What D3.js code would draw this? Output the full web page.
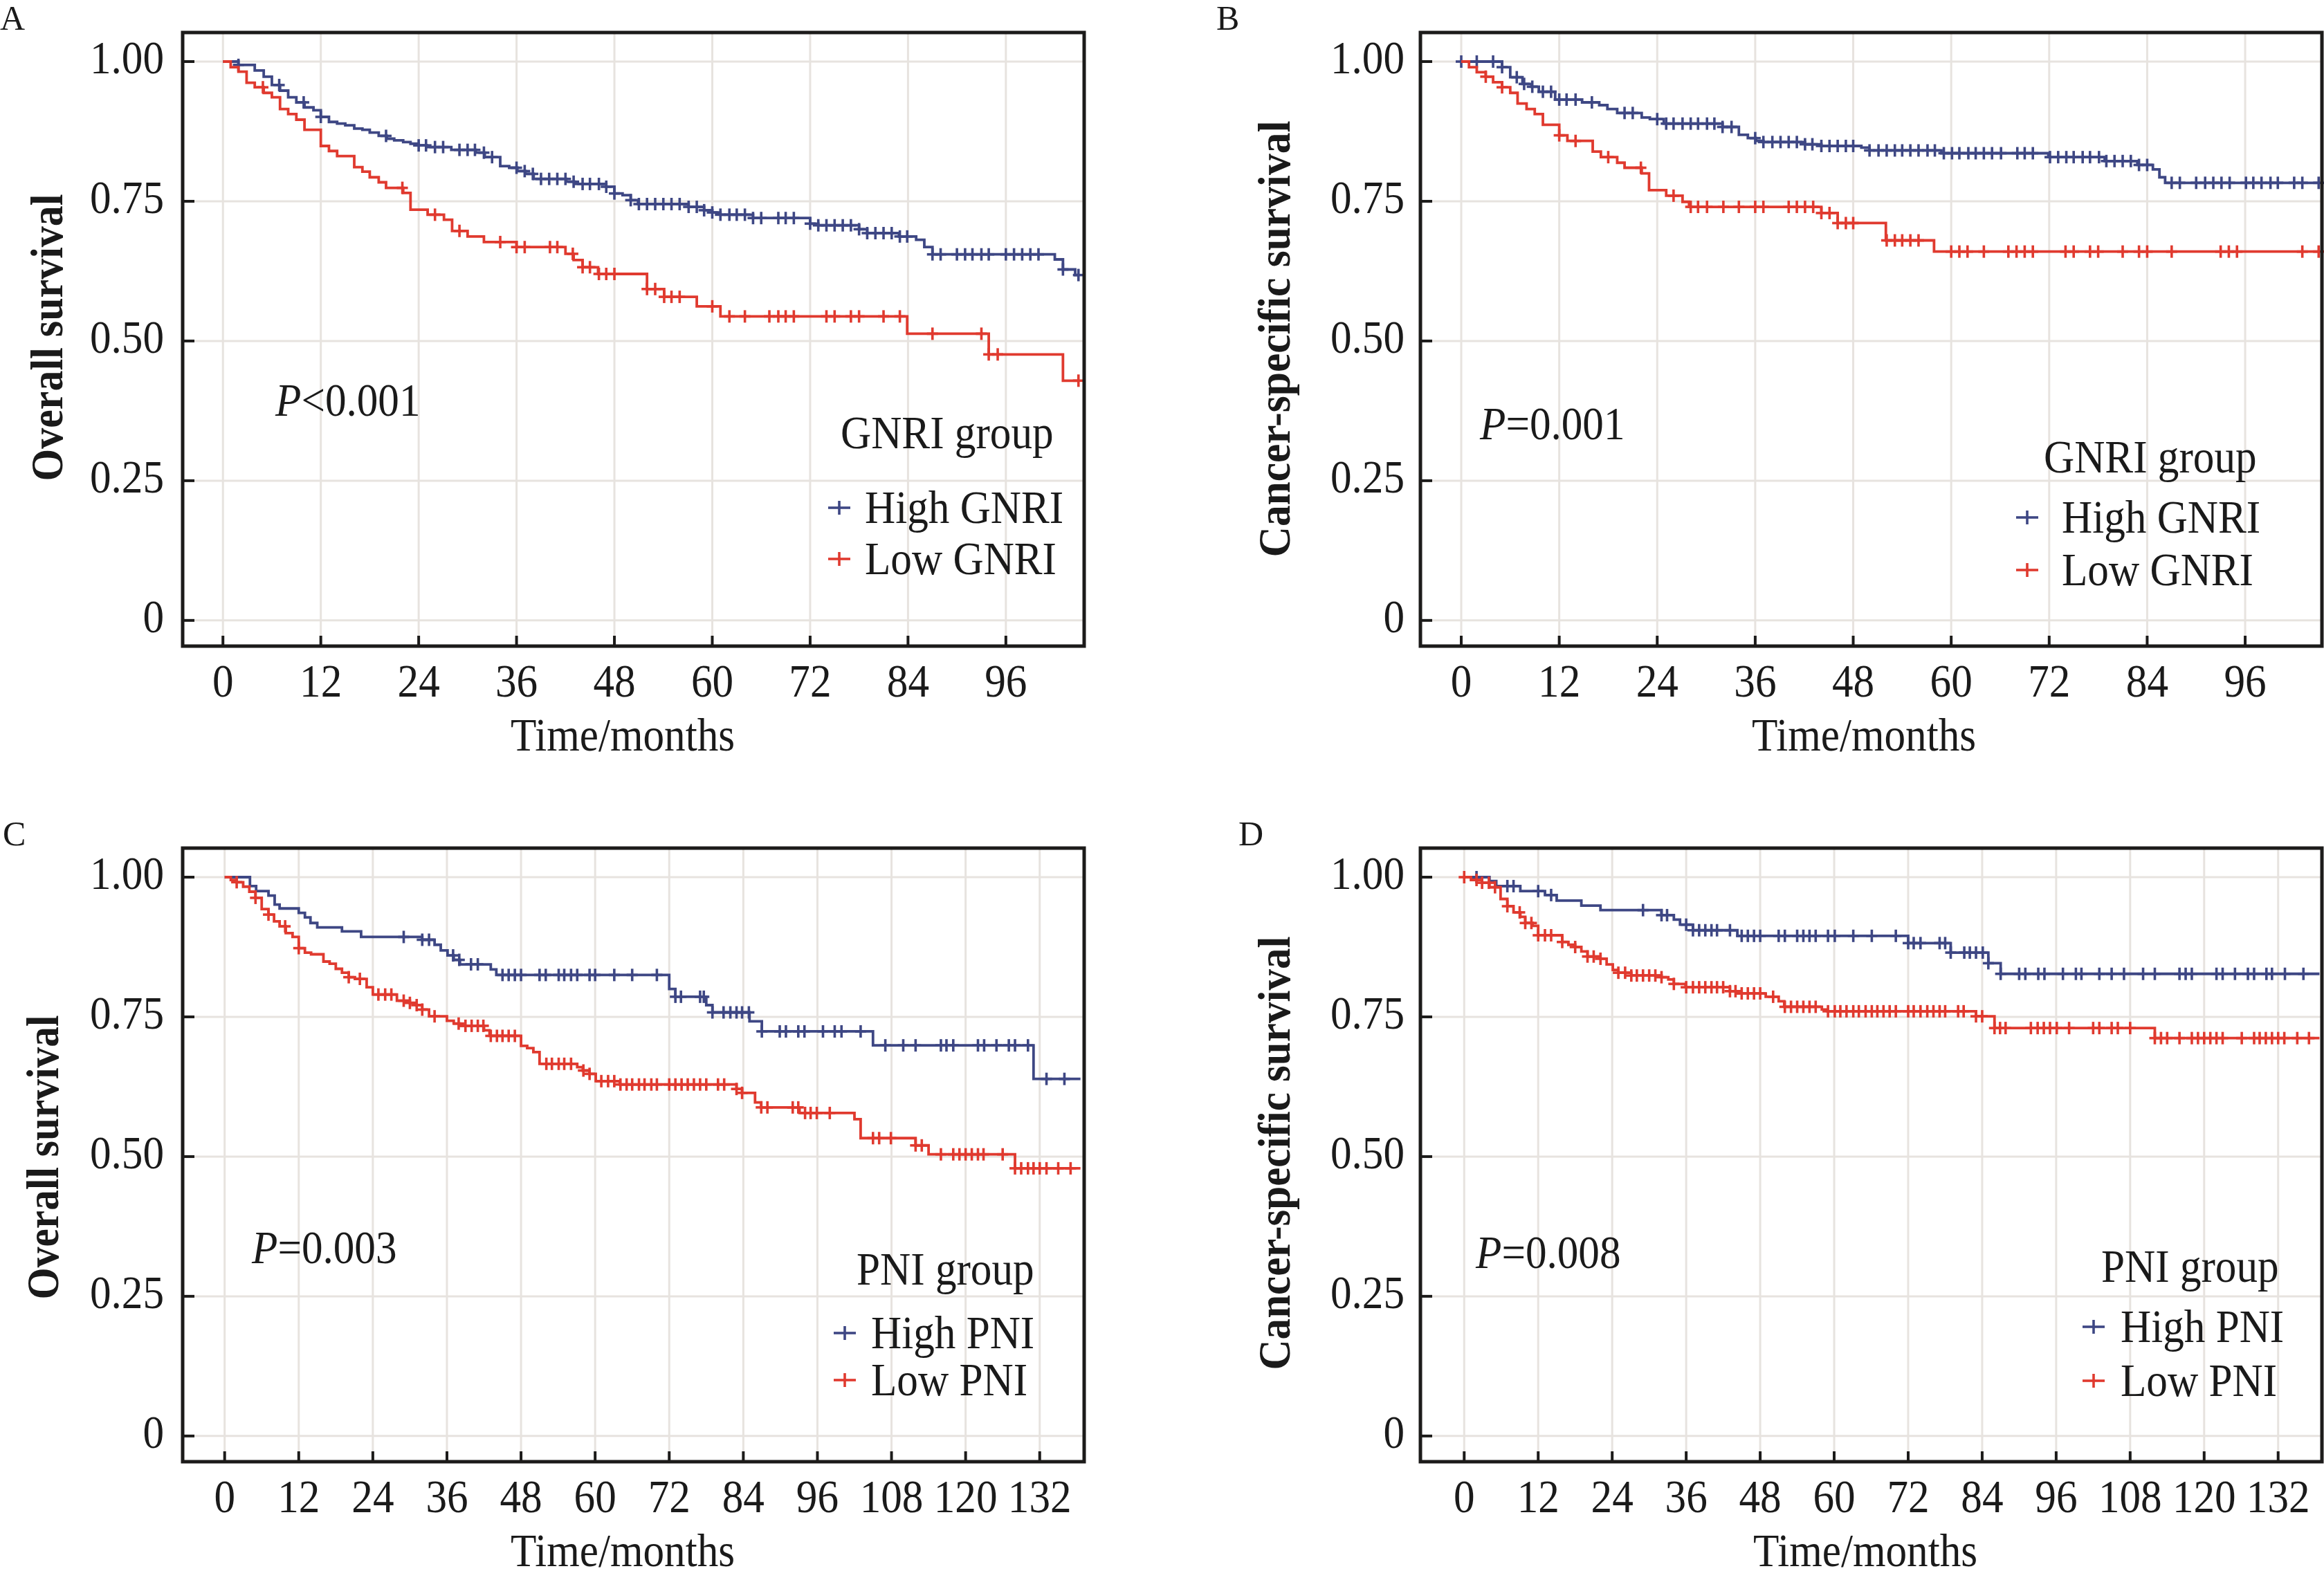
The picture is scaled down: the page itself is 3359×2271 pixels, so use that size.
<!DOCTYPE html>
<html>
<head>
<meta charset="utf-8">
<script src="https://cdn.jsdelivr.net/npm/d3@7"></script>
<style>
	html, body { margin: 0; padding: 0; background: #fff; }
	svg { display: block; }
	text { font-family: "Liberation Serif", "Times New Roman", serif; fill: #1a1a1a; }
</style>
</head>
<body>
<svg id="chart" width="3359" height="2271"></svg>
<script>
(function () {
	"use strict";

	// axis ticks
	var survTicks = [0, 0.25, 0.5, 0.75, 1];
	var survTickLabels = ["0", "0.25", "0.50", "0.75", "1.00"];
	var monthTicksGnri = [0, 12, 24, 36, 48, 60, 72, 84, 96];
	var monthTicksPni = [0, 12, 24, 36, 48, 60, 72, 84, 96, 108, 120, 132];

	// A: overall survival by GNRI
	var aHighTime = [0, 1.9, 3.9, 5.0, 6.0, 7.0, 8.0, 9.0, 10.0, 11.1, 12.0, 13.0, 14.0, 15.0, 16.1, 17.1, 18.0, 19.1, 20.1, 21.0, 22.1, 23.0, 24.0, 25.0, 28.0, 31.0, 32.1, 34.0, 35.1, 36.1, 37.1, 38.1, 42.1, 43.1, 47.0, 48.0, 49.0, 50.0, 50.9, 57.1, 59.0, 60.0, 61.0, 65.0, 72.0, 73.0, 78.0, 79.0, 82.9, 85.0, 86.0, 87.0, 102.0, 103.0, 104.5, 104.9];
	var aHighSurv = [1, 0.994, 0.984, 0.973, 0.958, 0.948, 0.936, 0.927, 0.918, 0.913, 0.901, 0.892, 0.889, 0.886, 0.880, 0.878, 0.873, 0.867, 0.862, 0.859, 0.856, 0.853, 0.850, 0.847, 0.842, 0.837, 0.829, 0.813, 0.810, 0.804, 0.799, 0.790, 0.785, 0.781, 0.776, 0.764, 0.761, 0.752, 0.745, 0.740, 0.734, 0.730, 0.726, 0.720, 0.710, 0.707, 0.700, 0.693, 0.687, 0.681, 0.668, 0.655, 0.646, 0.628, 0.618, 0.618];
	var aHighCens = [1.9, 6.9, 9.9, 12.0, 20.0, 24.0, 24.9, 26.0, 27.0, 29.0, 30.0, 30.9, 32.0, 33.0, 36.0, 37.0, 38.0, 39.0, 40.0, 41.0, 42.0, 43.0, 44.1, 45.0, 46.1, 47.0, 48.0, 50.0, 51.0, 52.0, 53.0, 54.0, 55.0, 56.0, 57.1, 58.1, 59.0, 60.0, 61.0, 62.1, 63.0, 64.0, 65.0, 66.0, 68.1, 69.0, 70.0, 72.0, 73.0, 74.0, 75.0, 76.0, 77.0, 78.0, 79.0, 80.0, 81.0, 82.0, 83.0, 83.9, 87.0, 88.0, 90.0, 91.0, 91.9, 93.0, 93.9, 96.0, 97.0, 98.0, 99.0, 100.0, 103.0, 104.9];
	var aLowTime = [0, 0.95, 1.9, 2.9, 3.9, 5.0, 6.0, 7.0, 8.0, 9.0, 10.0, 12.0, 13.0, 14.0, 16.1, 17.1, 18.0, 19.1, 20.0, 22.1, 23.0, 25.1, 27.1, 28.1, 30.0, 32.0, 36.0, 42.0, 43.0, 44.1, 46.0, 52.0, 54.1, 58.1, 61.0, 83.9, 93.9, 103.0, 104.9];
	var aLowSurv = [1, 0.990, 0.982, 0.962, 0.954, 0.944, 0.936, 0.915, 0.906, 0.896, 0.878, 0.849, 0.840, 0.831, 0.811, 0.803, 0.793, 0.784, 0.774, 0.765, 0.735, 0.726, 0.717, 0.697, 0.687, 0.677, 0.668, 0.656, 0.645, 0.632, 0.620, 0.593, 0.579, 0.562, 0.544, 0.513, 0.476, 0.429, 0.429];
	var aLowCens = [4.9, 22.0, 26.0, 29.0, 34.0, 36.0, 37.0, 40.1, 41.0, 42.9, 44.1, 45.0, 46.1, 47.0, 48.0, 52.0, 53.0, 54.1, 55.0, 56.0, 60.0, 62.1, 64.0, 67.0, 68.1, 69.0, 70.0, 74.0, 75.0, 77.0, 78.0, 81.0, 83.0, 87.0, 93.0, 93.9, 95.0, 104.9];

	// B: cancer-specific survival by GNRI
	var bHighTime = [0, 5.0, 6.0, 7.5, 8.6, 9.5, 11.5, 14.8, 16.9, 17.9, 19.1, 22.1, 23.1, 24.8, 32.0, 34.0, 35.1, 36.1, 37.0, 42.1, 44.1, 49.0, 50.0, 58.8, 71.9, 78.8, 82.8, 84.7, 85.5, 86.2, 105.0];
	var bHighSurv = [1, 0.990, 0.972, 0.960, 0.955, 0.946, 0.932, 0.927, 0.922, 0.915, 0.908, 0.900, 0.897, 0.889, 0.883, 0.869, 0.863, 0.858, 0.856, 0.852, 0.849, 0.846, 0.841, 0.836, 0.829, 0.822, 0.815, 0.807, 0.793, 0.783, 0.783];
	var bHighCens = [0, 1.9, 3.9, 5.0, 6.8, 7.7, 8.7, 10.0, 11.0, 12.0, 12.9, 14.0, 16.0, 20.0, 21.0, 24.0, 25.1, 26.0, 27.1, 28.1, 29.0, 30.1, 31.0, 32.0, 33.1, 36.0, 37.0, 38.1, 39.1, 40.1, 41.1, 42.1, 43.0, 44.1, 45.1, 46.1, 47.1, 48.0, 50.0, 51.1, 52.1, 53.1, 54.0, 55.0, 56.0, 57.1, 58.0, 59.1, 60.1, 61.0, 62.1, 63.0, 64.0, 65.0, 66.1, 68.1, 69.0, 70.0, 72.1, 73.1, 74.1, 75.0, 76.1, 77.0, 78.1, 79.0, 80.0, 81.0, 82.0, 83.0, 84.0, 87.0, 88.0, 90.0, 91.1, 92.1, 93.1, 94.1, 96.1, 97.0, 98.0, 99.1, 100.0, 102.0, 103.0, 105.0];
	var bLowTime = [0, 0.95, 1.9, 3.0, 3.9, 5.0, 6.0, 6.9, 8.0, 9.0, 10.0, 12.0, 13.0, 16.1, 17.1, 19.1, 20.0, 22.1, 23.0, 25.1, 27.1, 27.9, 44.1, 46.1, 52.0, 57.9, 105.0];
	var bLowSurv = [1, 0.990, 0.981, 0.973, 0.963, 0.954, 0.944, 0.925, 0.915, 0.906, 0.887, 0.868, 0.858, 0.839, 0.829, 0.819, 0.810, 0.800, 0.770, 0.760, 0.749, 0.740, 0.729, 0.711, 0.680, 0.660, 0.660];
	var bLowCens = [3.0, 5.0, 12.0, 14.0, 18.0, 22.0, 26.0, 28.1, 29.0, 30.1, 32.1, 34.0, 36.0, 37.0, 40.1, 41.1, 42.1, 43.1, 44.1, 45.1, 46.1, 47.1, 48.0, 52.1, 53.1, 54.0, 55.0, 56.0, 60.0, 61.0, 62.0, 64.0, 67.0, 68.0, 69.0, 70.0, 74.0, 75.0, 77.0, 78.0, 81.0, 83.0, 84.0, 87.0, 93.0, 94.0, 95.0, 103.0, 105.0];

	// C: overall survival by PNI
	var cHighTime = [0, 4.1, 5.1, 7.1, 8.1, 8.9, 12.0, 13.0, 13.9, 15.0, 19.0, 22.1, 32.0, 34.0, 35.0, 36.1, 37.1, 38.1, 43.1, 44.0, 72.0, 73.0, 78.0, 79.0, 85.0, 87.0, 105.0, 131.0, 138.6];
	var cHighSurv = [1, 0.984, 0.975, 0.967, 0.951, 0.944, 0.936, 0.928, 0.918, 0.910, 0.903, 0.893, 0.888, 0.879, 0.869, 0.860, 0.852, 0.844, 0.835, 0.825, 0.800, 0.786, 0.771, 0.758, 0.742, 0.724, 0.699, 0.639, 0.639];
	var cHighCens = [29.0, 32.0, 33.1, 37.0, 38.0, 39.9, 41.0, 45.0, 46.0, 47.0, 48.0, 51.0, 52.0, 54.1, 55.0, 56.1, 57.1, 59.1, 60.0, 63.1, 66.0, 70.0, 73.0, 73.9, 77.0, 77.6, 79.0, 80.8, 81.9, 82.9, 83.8, 84.9, 87.0, 89.9, 90.9, 92.9, 93.9, 96.9, 98.8, 99.9, 103.0, 107.0, 109.9, 111.9, 116.0, 116.9, 118.0, 122.0, 123.0, 125.0, 127.0, 128.0, 130.1, 133.1, 136.0];
	var cLowTime = [0, 1.0, 1.95, 3.0, 4.0, 5.0, 6.0, 7.1, 8.0, 8.9, 9.9, 11.0, 12.0, 13.0, 14.0, 16.0, 17.0, 18.0, 19.0, 20.1, 21.1, 23.0, 24.0, 27.9, 30.0, 31.0, 32.0, 33.1, 36.0, 37.1, 38.1, 42.0, 42.9, 48.0, 49.0, 50.0, 51.0, 57.1, 58.0, 59.1, 60.1, 64.0, 82.9, 83.8, 85.9, 86.9, 93.1, 102.0, 103.0, 111.9, 114.0, 128.0, 138.6];
	var cLowSurv = [1, 0.995, 0.991, 0.983, 0.974, 0.963, 0.943, 0.933, 0.921, 0.912, 0.900, 0.893, 0.873, 0.865, 0.862, 0.849, 0.845, 0.836, 0.829, 0.821, 0.818, 0.803, 0.790, 0.779, 0.775, 0.771, 0.763, 0.751, 0.743, 0.738, 0.734, 0.726, 0.716, 0.698, 0.694, 0.687, 0.666, 0.660, 0.654, 0.648, 0.635, 0.629, 0.621, 0.614, 0.597, 0.588, 0.578, 0.567, 0.533, 0.520, 0.504, 0.479, 0.479];
	var cLowCens = [1.95, 5.0, 7.1, 9.8, 12.0, 20.1, 21.9, 24.9, 26.0, 27.0, 29.0, 30.0, 31.1, 32.0, 34.0, 37.9, 39.0, 40.0, 41.0, 41.9, 43.1, 44.1, 45.0, 46.0, 47.0, 52.1, 53.0, 54.1, 55.0, 56.1, 58.1, 59.1, 61.0, 62.1, 63.1, 64.1, 65.1, 66.0, 67.1, 68.0, 69.1, 70.0, 72.0, 73.0, 74.0, 75.0, 76.0, 77.0, 78.0, 79.9, 80.9, 82.9, 83.8, 86.9, 87.9, 92.0, 92.9, 94.0, 94.9, 95.9, 98.0, 105.0, 106.0, 107.9, 111.9, 112.9, 116.0, 118.0, 119.0, 120.0, 121.0, 122.0, 122.9, 126.0, 128.0, 129.0, 130.1, 131.0, 132.0, 133.1, 135.0, 137.0];

	// D: cancer-specific survival by PNI
	var dHighTime = [0, 4.1, 5.2, 9.1, 13.1, 15.0, 19.0, 22.1, 32.0, 34.0, 35.0, 37.1, 44.3, 72.0, 78.9, 85.0, 87.0, 138.7];
	var dHighSurv = [1, 0.993, 0.984, 0.975, 0.968, 0.958, 0.949, 0.941, 0.932, 0.924, 0.915, 0.905, 0.895, 0.882, 0.865, 0.846, 0.827, 0.827];
	var dHighCens = [2.0, 7.0, 8.0, 12.0, 14.1, 29.0, 32.0, 32.9, 36.0, 37.1, 38.1, 39.1, 40.1, 41.0, 43.1, 45.0, 46.0, 47.0, 48.0, 51.0, 52.0, 54.0, 55.0, 56.0, 57.0, 59.0, 60.1, 63.1, 66.1, 70.0, 72.0, 72.9, 74.0, 77.1, 78.0, 78.9, 81.1, 82.0, 83.0, 84.1, 85.0, 87.0, 90.0, 91.0, 93.1, 94.1, 97.1, 99.2, 100.1, 103.0, 105.0, 107.0, 110.1, 112.0, 116.0, 117.0, 118.0, 122.0, 123.0, 125.0, 127.1, 128.1, 130.1, 131.0, 133.1, 136.1];
	var dLowTime = [0, 1.1, 2.9, 4.1, 5.9, 7.0, 8.0, 9.1, 9.9, 11.1, 12.0, 15.9, 16.9, 18.0, 19.0, 20.0, 22.1, 23.1, 24.1, 25.0, 27.1, 32.0, 33.1, 34.0, 35.9, 43.1, 44.3, 48.9, 51.0, 51.9, 58.0, 58.9, 83.0, 86.0, 112.0, 138.7];
	var dLowSurv = [1, 0.995, 0.990, 0.982, 0.961, 0.948, 0.937, 0.929, 0.918, 0.913, 0.896, 0.884, 0.879, 0.875, 0.867, 0.858, 0.854, 0.844, 0.834, 0.829, 0.824, 0.821, 0.817, 0.809, 0.803, 0.796, 0.792, 0.786, 0.778, 0.768, 0.763, 0.760, 0.751, 0.730, 0.712, 0.712];
	var dLowCens = [0, 2.0, 2.9, 4.0, 5.0, 7.0, 9.0, 9.9, 10.9, 12.0, 13.1, 14.1, 15.9, 18.0, 20.0, 21.0, 22.1, 25.0, 26.1, 27.1, 28.0, 29.0, 30.0, 31.0, 32.0, 34.0, 36.0, 37.1, 38.1, 39.1, 40.1, 41.0, 42.0, 43.1, 44.0, 45.0, 46.0, 47.0, 48.0, 50.1, 52.0, 53.0, 54.0, 55.0, 56.0, 57.0, 59.0, 60.1, 61.0, 62.0, 63.1, 64.0, 65.1, 66.1, 67.0, 68.0, 69.0, 70.0, 72.0, 72.9, 74.0, 75.1, 76.1, 77.1, 78.0, 80.1, 81.0, 83.0, 84.0, 86.0, 86.9, 87.8, 91.9, 93.0, 94.0, 95.0, 96.1, 98.1, 102.0, 103.0, 105.0, 106.0, 108.0, 112.0, 113.0, 114.0, 116.0, 118.0, 119.0, 120.0, 121.0, 122.0, 123.0, 126.1, 128.1, 129.0, 130.0, 131.0, 132.0, 133.0, 135.1, 137.0];

	var BLUE = '#3e4784';
	var RED = '#e03a2f';
	var GRID = '#e7e3df';
	var INK = '#1c1b1a';

	var panels = [
		{
			letter: 'A', letterX: 0, letterY: 43,
			left: 264, right: 1567, top: 47, bottom: 934, xMin: -4.94, xMax: 105.6,
			ticks: monthTicksGnri, yTickX: 237,
			yLabel: 'Overall survival', yLabelX: 90, yLabelY: 488, yLabelLen: 415,
			xTitleX: 900, xTitleY: 1085,
			pText: '<0.001', pX: 398, pY: 601,
			legendTitle: 'GNRI group', legTitleX: 1215, legTitleY: 648, keyX: 1213, legTextX: 1250, legY: [756, 830],
			series: [
				{ name: 'High GNRI', color: BLUE, time: aHighTime, surv: aHighSurv, cens: aHighCens },
				{ name: 'Low GNRI', color: RED, time: aLowTime, surv: aLowSurv, cens: aLowCens }
			]
		},
		{
			letter: 'B', letterX: 1758, letterY: 43,
			left: 2053, right: 3356, top: 47, bottom: 934, xMin: -5.0, xMax: 105.4,
			ticks: monthTicksGnri, yTickX: 2030,
			yLabel: 'Cancer-specific survival', yLabelX: 1864, yLabelY: 490, yLabelLen: 631,
			xTitleX: 2694, xTitleY: 1085,
			pText: '=0.001', pX: 2139, pY: 635,
			legendTitle: 'GNRI group', legTitleX: 2954, legTitleY: 683, keyX: 2930, legTextX: 2980, legY: [770, 846],
			series: [
				{ name: 'High GNRI', color: BLUE, time: bHighTime, surv: bHighSurv, cens: bHighCens },
				{ name: 'Low GNRI', color: RED, time: bLowTime, surv: bLowSurv, cens: bLowCens }
			]
		},
		{
			letter: 'C', letterX: 4, letterY: 1222,
			left: 264, right: 1567, top: 1226, bottom: 2113, xMin: -6.8, xMax: 139.2,
			ticks: monthTicksPni, yTickX: 237,
			yLabel: 'Overall survival', yLabelX: 84, yLabelY: 1673, yLabelLen: 411,
			xTitleX: 900, xTitleY: 2264,
			pText: '=0.003', pX: 364, pY: 1826,
			legendTitle: 'PNI group', legTitleX: 1238, legTitleY: 1857, keyX: 1221, legTextX: 1259, legY: [1949, 2017],
			series: [
				{ name: 'High PNI', color: BLUE, time: cHighTime, surv: cHighSurv, cens: cHighCens },
				{ name: 'Low PNI', color: RED, time: cLowTime, surv: cLowSurv, cens: cLowCens }
			]
		},
		{
			letter: 'D', letterX: 1790, letterY: 1222,
			left: 2053, right: 3356, top: 1226, bottom: 2113, xMin: -7.1, xMax: 139.1,
			ticks: monthTicksPni, yTickX: 2030,
			yLabel: 'Cancer-specific survival', yLabelX: 1864, yLabelY: 1667, yLabelLen: 627,
			xTitleX: 2696, xTitleY: 2264,
			pText: '=0.008', pX: 2133, pY: 1833,
			legendTitle: 'PNI group', legTitleX: 3037, legTitleY: 1853, keyX: 3026, legTextX: 3065, legY: [1940, 2018],
			series: [
				{ name: 'High PNI', color: BLUE, time: dHighTime, surv: dHighSurv, cens: dHighCens },
				{ name: 'Low PNI', color: RED, time: dLowTime, surv: dLowSurv, cens: dLowCens }
			]
		}
	];

	var svg = d3.select('#chart');
	svg.append('rect').attr('width', 3359).attr('height', 2271).attr('fill', '#fff');

	panels.forEach(function (p) { renderPanel(svg, p); });

	// text squeezed a little horizontally, like the narrow serif of the figure
	function narrowText(g, x, y, str, anchor, size) {
		return g.append('text')
			.attr('transform', 'translate(' + x + ',' + y + ') scale(0.9,1)')
			.attr('text-anchor', anchor || 'start')
			.attr('font-size', size || 68)
			.text(str);
	}

	function survAt(s, t) {
		var i = d3.bisectRight(s.time, t) - 1;
		return s.surv[Math.max(i, 0)];
	}

	function renderPanel(root, p) {
		var x = d3.scaleLinear().domain([p.xMin, p.xMax]).range([p.left, p.right]);
		var y = d3.scaleLinear().domain([-0.046, 1.052]).range([p.bottom, p.top]);
		var g = root.append('g');

		// grid
		g.selectAll('.vgrid').data(p.ticks).enter().append('line')
			.attr('x1', function (d) { return x(d); }).attr('x2', function (d) { return x(d); })
			.attr('y1', p.top).attr('y2', p.bottom)
			.attr('stroke', GRID).attr('stroke-width', 3);
		g.selectAll('.hgrid').data(survTicks).enter().append('line')
			.attr('x1', p.left).attr('x2', p.right)
			.attr('y1', function (d) { return y(d); }).attr('y2', function (d) { return y(d); })
			.attr('stroke', GRID).attr('stroke-width', 3);

		// inward ticks
		g.selectAll('.xtick').data(p.ticks).enter().append('line')
			.attr('x1', function (d) { return x(d); }).attr('x2', function (d) { return x(d); })
			.attr('y1', p.bottom).attr('y2', p.bottom - 15)
			.attr('stroke', INK).attr('stroke-width', 4);
		g.selectAll('.ytick').data(survTicks).enter().append('line')
			.attr('x1', p.left).attr('x2', p.left + 17)
			.attr('y1', function (d) { return y(d); }).attr('y2', function (d) { return y(d); })
			.attr('stroke', INK).attr('stroke-width', 4);

		// curves
		var line = d3.line()
			.x(function (d) { return x(d[0]); })
			.y(function (d) { return y(d[1]); })
			.curve(d3.curveStepAfter);

		p.series.forEach(function (s) {
			var pts = s.time.map(function (t, i) { return [t, s.surv[i]]; });
			g.append('path')
				.attr('d', line(pts))
				.attr('fill', 'none')
				.attr('stroke', s.color)
				.attr('stroke-width', 3.8);

			var marks = g.append('g').attr('stroke', s.color).attr('stroke-width', 3.6);
			s.cens.forEach(function (t) {
				var cx = x(t), cy = y(survAt(s, t));
				marks.append('line').attr('x1', cx).attr('x2', cx).attr('y1', cy - 9).attr('y2', cy + 9);
				marks.append('line').attr('x1', cx - 8).attr('x2', cx + 8).attr('y1', cy).attr('y2', cy);
			});
		});

		// frame
		g.append('rect')
			.attr('x', p.left).attr('y', p.top)
			.attr('width', p.right - p.left).attr('height', p.bottom - p.top)
			.attr('fill', 'none').attr('stroke', INK).attr('stroke-width', 5);

		// tick labels
		survTicks.forEach(function (v, i) {
			narrowText(g, p.yTickX, y(v) + 17, survTickLabels[i], 'end');
		});
		p.ticks.forEach(function (m) {
			narrowText(g, x(m), p.bottom + 73, String(m), 'middle');
		});

		narrowText(g, p.xTitleX, p.xTitleY, 'Time/months', 'middle');

		g.append('text')
			.attr('transform', 'translate(' + p.yLabelX + ',' + p.yLabelY + ') rotate(-90)')
			.attr('text-anchor', 'middle')
			.attr('font-size', 66)
			.attr('font-weight', 'bold')
			.attr('textLength', p.yLabelLen)
			.attr('lengthAdjust', 'spacingAndGlyphs')
			.text(p.yLabel);

		g.append('text')
			.attr('x', p.letterX).attr('y', p.letterY)
			.attr('font-size', 50)
			.text(p.letter);

		// p value
		var pt = narrowText(g, p.pX, p.pY, '', 'start');
		pt.append('tspan').attr('font-style', 'italic').text('P');
		pt.append('tspan').text(p.pText);

		// legend
		narrowText(g, p.legTitleX, p.legTitleY, p.legendTitle, 'start');
		p.series.forEach(function (s, i) {
			var ky = p.legY[i] - 22;
			g.append('line')
				.attr('x1', p.keyX - 16).attr('x2', p.keyX + 16)
				.attr('y1', ky).attr('y2', ky)
				.attr('stroke', s.color).attr('stroke-width', 3.6);
			g.append('line')
				.attr('x1', p.keyX).attr('x2', p.keyX)
				.attr('y1', ky - 10).attr('y2', ky + 10)
				.attr('stroke', s.color).attr('stroke-width', 3.6);
			narrowText(g, p.legTextX, p.legY[i], s.name, 'start');
		});
	}
}());
</script>
</body>
</html>
